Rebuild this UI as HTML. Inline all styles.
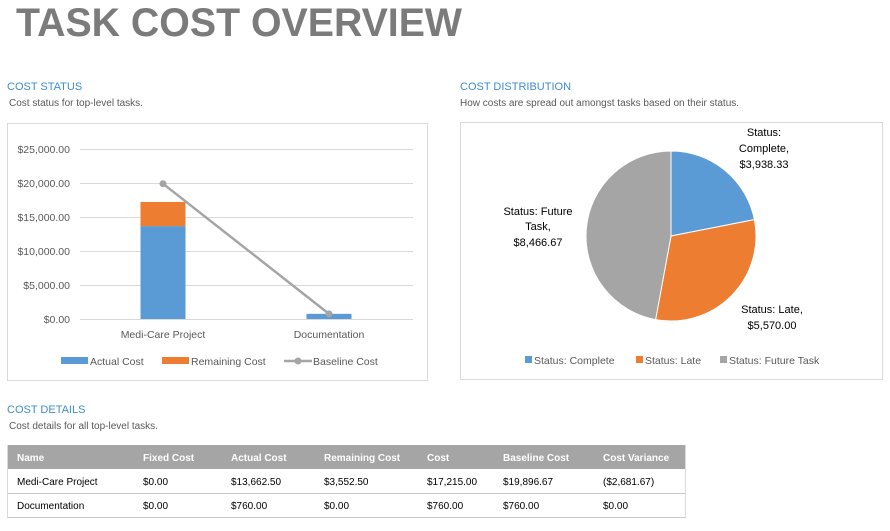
<!DOCTYPE html>
<html><head><meta charset="utf-8"><style>
body{margin:0;background:#fff;width:890px;height:531px;overflow:hidden}
svg{display:block;font-family:"Liberation Sans",sans-serif}
</style></head><body>
<svg width="890" height="531" viewBox="0 0 890 531">
<text x="16" y="36" font-size="40" font-weight="bold" fill="#7b7b7b" textLength="446" lengthAdjust="spacingAndGlyphs">TASK COST OVERVIEW</text>

<text x="7" y="90" font-size="11" fill="#3e8dd2">COST STATUS</text>
<text x="9" y="106" font-size="10" fill="#595959">Cost status for top-level tasks.</text>
<rect x="7.5" y="123.5" width="420" height="257" fill="#fff" stroke="#d9d9d9"/>
<g id="bar"></g>

<text x="460" y="90" font-size="11" fill="#3e8dd2">COST DISTRIBUTION</text>
<text x="460" y="106" font-size="10" fill="#595959">How costs are spread out amongst tasks based on their status.</text>
<rect x="460.5" y="122.5" width="422" height="257" fill="#fff" stroke="#d9d9d9"/>
<g id="pie"></g>

<text x="7" y="413" font-size="11" fill="#3e8dd2">COST DETAILS</text>
<text x="9" y="429" font-size="10" fill="#595959">Cost details for all top-level tasks.</text>
<g id="tbl"></g>
</svg>
<script>
const NS="http://www.w3.org/2000/svg";
function mk(p,tag,a,txt){const e=document.createElementNS(NS,tag);for(const k in a)e.setAttribute(k,a[k]);if(txt!=null)e.textContent=txt;p.appendChild(e);return e;}

// ---- bar chart data
const categories=["Medi-Care Project","Documentation"];
const actualCost=[13662.5,760];
const remainingCost=[3552.5,0];
const baselineCost=[19896.67,760];
const yTicks=[0,5000,10000,15000,20000,25000];
const yTickLabels=["$0.00","$5,000.00","$10,000.00","$15,000.00","$20,000.00","$25,000.00"];

const bar=document.getElementById('bar');
const y0=319,yTop=149,yMax=25000,px0=80,px1=412;
const ys=v=>y0-(v/yMax)*(y0-yTop);
const bw=(px1-px0)/categories.length;
const xs=i=>px0+bw*(i+0.5);
yTicks.forEach((t,i)=>{
  const g=mk(bar,'line',{x1:px0,x2:px1+1,y1:ys(t)+0.5,y2:ys(t)+0.5,stroke:'#d9d9d9'});
  
  
  const l=mk(bar,'text',{x:70,y:ys(t)+4,'font-size':10.5,fill:'#595959','text-anchor':'end'},yTickLabels[i]);
  
  
});
categories.forEach((c,i)=>{
  const x=xs(i);
  const a=mk(bar,'rect',{x:x-22.5,y:ys(actualCost[i]),width:45,height:y0-ys(actualCost[i]),fill:'#5b9bd5'});
  
  
  const top=actualCost[i]+remainingCost[i];
  const r=mk(bar,'rect',{x:x-22.5,y:ys(top),width:45,height:ys(actualCost[i])-ys(top),fill:'#ed7d31'});
  
  
  const t=mk(bar,'text',{x:x,y:338,'font-size':10.5,fill:'#595959','text-anchor':'middle'},c);
  
  
});
const pl=mk(bar,'polyline',{points:baselineCost.map((v,i)=>xs(i)+','+ys(v)).join(' '),fill:'none',stroke:'#a5a5a5','stroke-width':2.5});


baselineCost.forEach((v,i)=>{
  const c=mk(bar,'circle',{cx:xs(i),cy:ys(v),r:3.5,fill:'#a5a5a5'});
  
  
});
// legend
[[61,'#5b9bd5','Actual Cost'],[162,'#ed7d31','Remaining Cost']].forEach(([x,col,lab])=>{
  const g=mk(bar,'g',{});
  
  
  mk(g,'rect',{x:x,y:357,width:27,height:7,fill:col});
  mk(g,'text',{x:x+29,y:365,'font-size':10.5,fill:'#595959'},lab);
});
const lg=mk(bar,'g',{});


mk(lg,'line',{x1:284,x2:312,y1:361,y2:361,stroke:'#a5a5a5','stroke-width':2.5});
mk(lg,'circle',{cx:298,cy:361,r:3.5,fill:'#a5a5a5'});
mk(lg,'text',{x:313,y:365,'font-size':10.5,fill:'#595959'},'Baseline Cost');

// ---- pie data
const pieLabels=["Status: Complete","Status: Late","Status: Future Task"];
const pieValues=[3938.33,5570.00,8466.67];
const pieValueLabels=["$3,938.33","$5,570.00","$8,466.67"];
const pieColors=['#5b9bd5','#ed7d31','#a5a5a5'];
const pie=document.getElementById('pie');
const cx=671,cy=236,R=85;
const tot=pieValues.reduce((a,b)=>a+b,0);
let ang=-Math.PI/2;
pieValues.forEach((v,i)=>{
  const a2=ang+v/tot*2*Math.PI;
  const large=(a2-ang)>Math.PI?1:0;
  const p=mk(pie,'path',{d:`M${cx},${cy} L${cx+R*Math.cos(ang)},${cy+R*Math.sin(ang)} A${R},${R} 0 ${large} 1 ${cx+R*Math.cos(a2)},${cy+R*Math.sin(a2)} Z`,fill:pieColors[i],stroke:'#fff','stroke-width':1});
  
  
  ang=a2;
});
const lbls=[
  [764,[136,152,168],["Status:","Complete,",pieValueLabels[0]]],
  [772,[313,329],["Status: Late,",pieValueLabels[1]]],
  [538,[215,230,246],["Status: Future","Task,",pieValueLabels[2]]]
];
lbls.forEach(([x,yy,lines])=>{
  const t=mk(pie,'text',{'font-size':11,fill:'#000','text-anchor':'middle'});
  
  
  lines.forEach((s,j)=>mk(t,'tspan',{x:x,y:yy[j]},s));
});
[525,636,720].forEach((x,i)=>{
  const g=mk(pie,'g',{});
  
  
  mk(g,'rect',{x:x,y:356,width:7,height:7,fill:pieColors[i]});
  mk(g,'text',{x:x+9,y:364,'font-size':10.5,fill:'#595959'},pieLabels[i]);
});

// ---- table
const headers=["Name","Fixed Cost","Actual Cost","Remaining Cost","Cost","Baseline Cost","Cost Variance"];
const rows=[["Medi-Care Project","$0.00","$13,662.50","$3,552.50","$17,215.00","$19,896.67","($2,681.67)"],
["Documentation","$0.00","$760.00","$0.00","$760.00","$760.00","$0.00"]];
const colX=[17,143,231,324,427,503,603];
const tb=document.getElementById('tbl');
mk(tb,'rect',{x:7,y:445,width:679,height:24,fill:'#a5a5a5'});
headers.forEach((h,i)=>{
  const t=mk(tb,'text',{x:colX[i],y:461,'font-size':10,'font-weight':'bold',fill:'#fff'},h);
  
  
});
rows.forEach((r,ri)=>{
  const y=469+ri*24;
  const g=mk(tb,'g',{});
  
  
  mk(g,'line',{x1:7,x2:686,y1:y+24.5,y2:y+24.5,stroke:'#c8c8c8'});
  r.forEach((c,i)=>mk(g,'text',{x:colX[i],y:y+16,'font-size':10,fill:'#000'},c));
});
mk(tb,'line',{x1:7.5,x2:7.5,y1:445,y2:518,stroke:'#d9d9d9'});
mk(tb,'line',{x1:685.5,x2:685.5,y1:445,y2:518,stroke:'#d9d9d9'});
</script>
</body></html>
